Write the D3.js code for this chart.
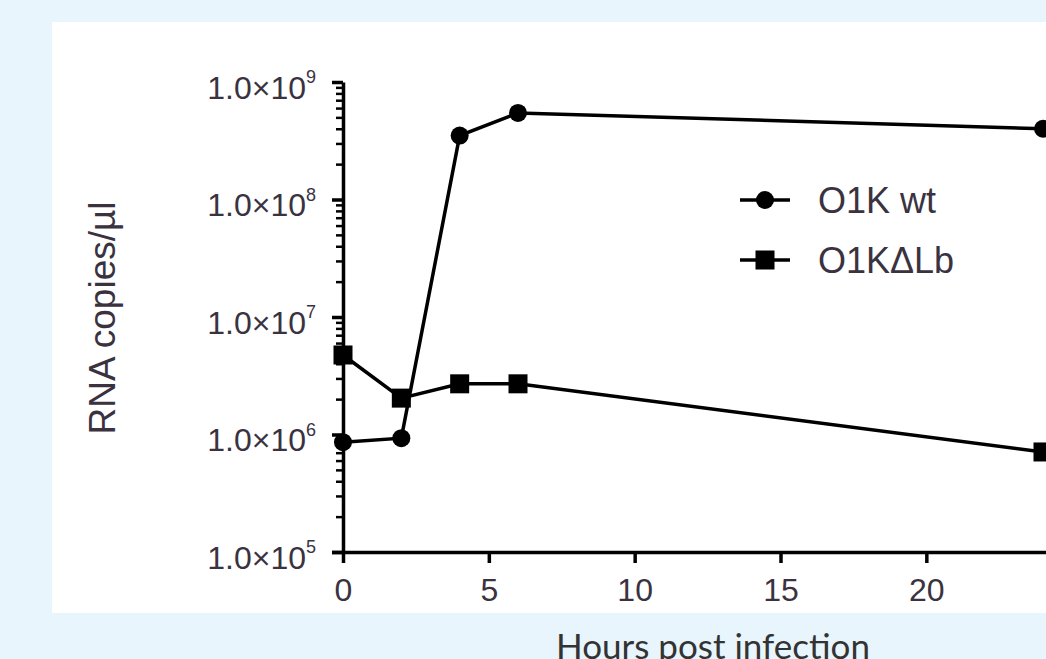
<!DOCTYPE html>
<html>
<head>
<meta charset="utf-8">
<script src="https://cdn.jsdelivr.net/npm/d3@7"></script>
<style>
  html, body { margin: 0; padding: 0; background: #e8f5fc; overflow: hidden; }
  svg { display: block; }
  text { font-family: "Liberation Sans", Arial, sans-serif; fill: #3a333f; }
</style>
</head>
<body>
<div id="chart"></div>
<script>
/* RNA copies over time, log scale, two virus strains */

const hours = [0, 2, 4, 6, 24];
const wtValues = [8.6e5, 9.3e5, 3.5e8, 5.45e8, 4.0e8];
const dLbValues = [4.75e6, 2.04e6, 2.7e6, 2.7e6, 7.1e5];
const seriesNames = ["O1K wt", "O1K\u0394Lb"];
const xTicks = [0, 5, 10, 15, 20];
const yExponents = [5, 6, 7, 8, 9];

const width = 1046,
      height = 659;

let svg = d3.select("#chart")
    .append("svg")
    .attr("width", width)
    .attr("height", height);

// white panel behind the plot
svg.append("rect")
    .attr("x", 52)
    .attr("y", 22)
    .attr("width", width - 52)
    .attr("height", 591)
    .attr("fill", "white");

let x = d3.scaleLinear()
    .domain([0, 24])
    .range([343, 1043]);

let y = d3.scaleLog()
    .domain([1e5, 1e9])
    .range([552, 82]);

// minor ticks on the log axis (2..9 in each decade)
let minors = [];
for (let e = 5; e < 9; e++) {
    for (let m = 2; m <= 9; m++) minors.push(m * Math.pow(10, e));
}

svg.append("g")
    .attr("transform", `translate(${x(0)},0)`)
    .call(d3.axisLeft(y).tickValues(minors).tickSize(7).tickFormat(""))
    .call(g => g.select(".domain").remove())
    .call(g => g.selectAll("line").attr("stroke", "black").attr("stroke-width", 2.5));

let yAxis = svg.append("g")
    .attr("transform", `translate(${x(0)},0)`)
    .call(d3.axisLeft(y).tickValues(yExponents.map(e => Math.pow(10, e))).tickSize(11).tickSizeOuter(0).tickFormat(""));

yAxis.select(".domain").attr("stroke", "black").attr("stroke-width", 3.5);
yAxis.selectAll("line").attr("stroke", "black").attr("stroke-width", 3.5);

// labels like 1.0x10^9
let yLab = yAxis.selectAll(".tick")
    .append("text")
    .attr("x", -27)
    .attr("dy", "0.5em")
    .attr("text-anchor", "end")
    .style("font-size", "32px")
    .style("fill", "#3a333f");

yLab.append("tspan").text("1.0\u00d710");
yLab.append("tspan")
    .attr("dy", "-0.85em")
    .style("font-size", "18px")
    .text(d => Math.round(Math.log10(d)));

let xAxis = svg.append("g")
    .attr("transform", `translate(0,${y(1e5)})`)
    .call(d3.axisBottom(x).tickValues(xTicks).tickSize(11).tickSizeOuter(0));

xAxis.select(".domain")
    .attr("d", `M${x(0) - 11},0.5H${width}`)
    .attr("stroke", "black")
    .attr("stroke-width", 3.5);
xAxis.selectAll("line").attr("stroke", "black").attr("stroke-width", 3.5);
xAxis.selectAll("text")
    .attr("y", 49)
    .attr("dy", 0)
    .style("font-size", "32px")
    .style("font-family", "'Liberation Sans', Arial, sans-serif")
    .style("fill", "#3a333f");

// axis titles
svg.append("text")
    .attr("transform", `translate(115,318) rotate(-90)`)
    .attr("text-anchor", "middle")
    .style("font-size", "37px")
    .text("RNA copies/\u00b5l");

svg.append("text")
    .attr("x", 713)
    .attr("y", 659)
    .attr("text-anchor", "middle")
    .style("font-family", "Lato, 'Open Sans', sans-serif")
    .style("font-size", "35px")
    .style("fill", "#333")
    .text("Hours post infection");

let line = d3.line()
    .x((d, i) => x(hours[i]))
    .y(d => y(d));

svg.append("path")
    .datum(wtValues)
    .attr("fill", "none")
    .attr("stroke", "black")
    .attr("stroke-width", 3.5)
    .attr("d", line);

svg.append("path")
    .datum(dLbValues)
    .attr("fill", "none")
    .attr("stroke", "black")
    .attr("stroke-width", 3.5)
    .attr("d", line);

svg.selectAll(".dot")
    .data(wtValues)
    .join("circle")
    .attr("class", "dot")
    .attr("cx", (d, i) => x(hours[i]))
    .attr("cy", d => y(d))
    .attr("r", 9)
    .attr("fill", "black");

const sq = 19;
svg.selectAll(".sq")
    .data(dLbValues)
    .join("rect")
    .attr("class", "sq")
    .attr("x", (d, i) => x(hours[i]) - sq / 2)
    .attr("y", d => y(d) - sq / 2)
    .attr("width", sq)
    .attr("height", sq)
    .attr("fill", "black");

// legend
let legend = svg.append("g");
seriesNames.forEach((name, i) => {
    let ly = 200 + i * 60;
    legend.append("line")
        .attr("x1", 740).attr("x2", 790)
        .attr("y1", ly).attr("y2", ly)
        .attr("stroke", "black")
        .attr("stroke-width", 3.5);
    if (i === 0) {
        legend.append("circle").attr("cx", 765).attr("cy", ly).attr("r", 9).attr("fill", "black");
    } else {
        legend.append("rect").attr("x", 765 - sq / 2).attr("y", ly - sq / 2)
            .attr("width", sq).attr("height", sq).attr("fill", "black");
    }
    legend.append("text")
        .attr("x", 818)
        .attr("y", ly + 13)
        .style("font-size", "36px")
        .text(name);
});
</script>
</body>
</html>
